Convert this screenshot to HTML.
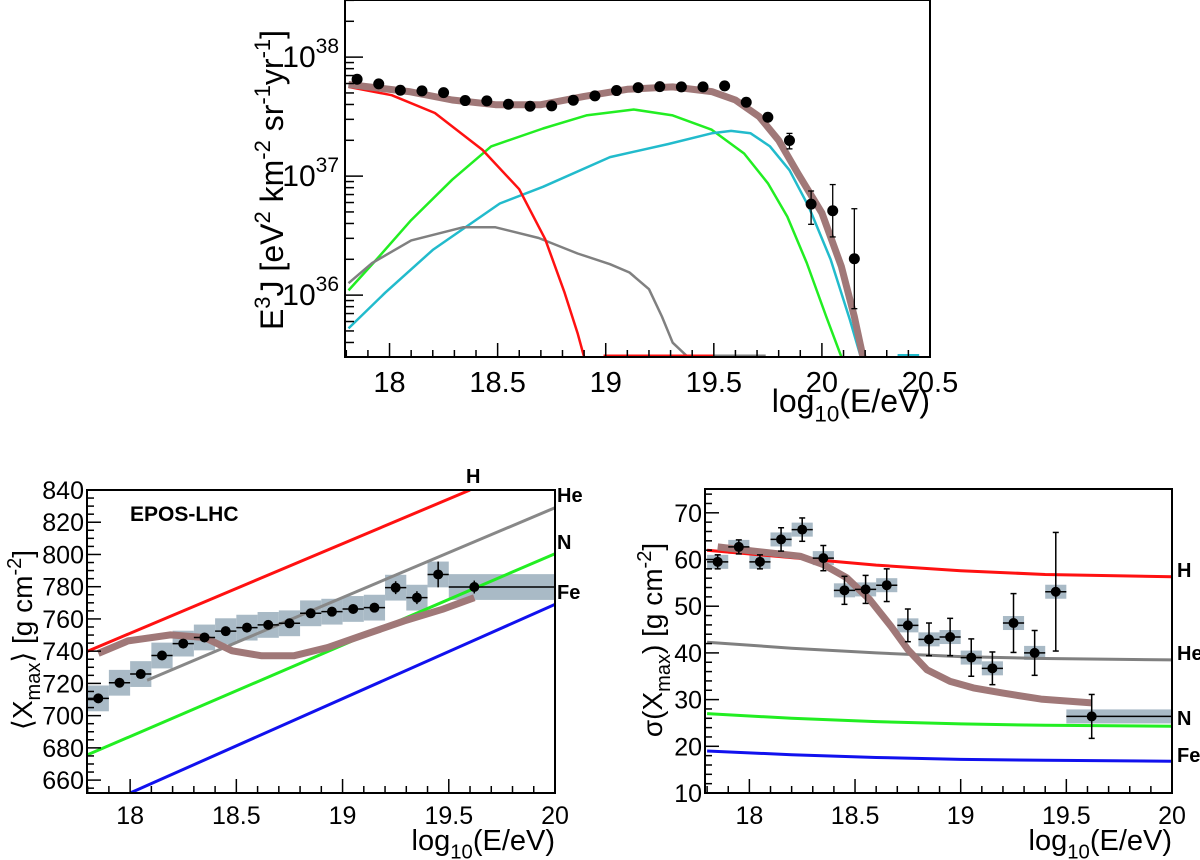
<!DOCTYPE html>
<html><head><meta charset="utf-8"><style>
html,body{margin:0;padding:0;background:#fff;}
svg{display:block;font-family:"Liberation Sans",Arial,sans-serif;}
</style></head><body>
<svg id="fig" width="1200" height="860" viewBox="0 0 1200 860" xmlns="http://www.w3.org/2000/svg"></svg>
<script>
// ===== Top panel data (log10 E, log10 E^3 J) =====
const specE = [17.85,17.95,18.05,18.15,18.25,18.35,18.45,18.55,18.65,18.75,18.85,18.95,19.05,19.15,19.25,19.35,19.45,19.55,19.65,19.75,19.85,19.95,20.05,20.15];
const specJ = [37.814,37.775,37.722,37.716,37.702,37.635,37.632,37.604,37.587,37.590,37.638,37.674,37.719,37.744,37.752,37.750,37.750,37.758,37.621,37.495,37.299,36.765,36.709,36.306];
const specErrUp = [0,0,0,0,0,0,0,0,0,0,0,0,0,0,0,0,0,0,0,0,0.06,0.11,0.22,0.42];
const specErrDn = [0,0,0,0,0,0,0,0,0,0,0,0,0,0,0,0,0,0,0,0,0.07,0.17,0.22,0.42];
const totX = [17.81,18.09,18.29,18.49,18.70,18.90,19.10,19.31,19.49,19.60,19.71,19.80,19.89,20.00,20.09,20.15,20.19];
const totY = [37.77,37.71,37.64,37.60,37.60,37.67,37.73,37.75,37.71,37.64,37.50,37.30,37.02,36.69,36.24,35.82,35.48];
const redX = [17.81,18.01,18.21,18.43,18.60,18.72,18.81,18.87,18.90];
const redY = [37.75,37.68,37.53,37.22,36.89,36.47,36.02,35.68,35.48];
const redFlatX = [18.99,19.50];
const greenX = [17.81,17.94,18.10,18.29,18.47,18.71,18.91,19.13,19.31,19.49,19.64,19.75,19.84,19.93,20.02,20.09];
const greenY = [36.04,36.30,36.63,36.97,37.25,37.40,37.51,37.56,37.51,37.39,37.19,36.94,36.66,36.27,35.82,35.48];
const cyanX = [17.81,17.98,18.20,18.51,18.71,19.02,19.29,19.49,19.58,19.67,19.76,19.85,19.94,20.04,20.13,20.18];
const cyanY = [35.72,36.02,36.38,36.77,36.91,37.16,37.27,37.36,37.38,37.36,37.25,37.05,36.74,36.30,35.79,35.48];
const grayX = [17.81,17.92,18.10,18.34,18.49,18.69,18.87,19.02,19.11,19.20,19.26,19.31,19.38];
const grayY = [36.10,36.27,36.46,36.57,36.57,36.48,36.35,36.26,36.19,36.05,35.82,35.60,35.48];
// ===== <Xmax> panel data =====
const xmE = [17.85,17.95,18.05,18.15,18.25,18.35,18.45,18.55,18.65,18.75,18.85,18.95,19.05,19.15,19.25,19.35,19.45,19.62];
const xmV = [710.7,720.4,725.8,737.3,744.7,748.5,752.4,754.6,756.3,757.3,763.5,764.5,766.2,767.0,779.4,773.2,787.6,779.8];
const xmStat = [2,2,2,2,2,2,2,2,2,2,2.5,2.5,2.5,2.5,4,4,8,4];
const xmSys = [8,8,8,8,8,8,8,8,8,8,8,8,8,8,8,8,8,8];
const xmModelX = [17.85,17.99,18.19,18.35,18.48,18.62,18.77,18.93,19.11,19.29,19.47,19.62];
const xmModelY = [738.6,746.4,750.1,748.5,740.2,737.1,737.1,742.3,750.5,758.8,766.0,773.2];
const hLine = [[17.8,740],[19.6,840]];
const heLine = [[18.08,722],[20,829]];
const nLine = [[17.8,675.7],[20,800.5]];
const feLine = [[18.0,652],[20,769]];
// ===== sigma(Xmax) panel data =====
const sgE = [17.85,17.95,18.05,18.15,18.25,18.35,18.45,18.55,18.65,18.75,18.85,18.95,19.05,19.15,19.25,19.35,19.45,19.62];
const sgV = [59.5,62.7,59.5,64.3,66.4,60.3,53.4,53.6,54.5,45.9,42.9,43.4,39.0,36.7,46.4,40.0,53.1,26.4];
const sgStat = [1.5,1.5,1.5,2.5,2.5,2.7,3,3,3.5,3.5,3.5,4,4,3.5,6.3,4.8,12.7,4.7];
const sgSys = [1.5,1.5,1.5,1.5,1.5,1.5,1.5,1.5,1.5,1.5,1.5,1.5,1.5,1.5,1.5,1.5,1.5,1.5];
const sgModelX = [17.85,18.02,18.24,18.35,18.46,18.57,18.67,18.75,18.84,18.95,19.06,19.2,19.38,19.62];
const sgModelY = [62.7,61.8,60.7,58.9,56.1,51.4,45.7,40.7,36.4,33.9,32.5,31.4,30.1,29.3];
const sgLX = [17.8,18.2,18.6,19.0,19.4,20.0];
const sgH = [62.0,60.4,58.8,57.6,56.8,56.3];
const sgHe = [42.3,41.0,40.0,39.2,38.8,38.5];
const sgN = [27.0,26.0,25.3,24.8,24.5,24.3];
const sgFe = [19.0,18.2,17.6,17.2,17.0,16.8];

const NS = "http://www.w3.org/2000/svg";
const svg = document.getElementById('fig');
function mk(tag, attrs, parent){ const e=document.createElementNS(NS,tag); for(const k in attrs) e.setAttribute(k,attrs[k]); (parent||svg).appendChild(e); return e; }

function panel(L,R,T,B,x0,x1,y0,y1){
  return { X:v=>L+(v-x0)/(x1-x0)*(R-L), Y:v=>B-(v-y0)/(y1-y0)*(B-T), L,R,T,B };
}
function poly(p, xs, ys, color, w, name, g){
  const d = xs.map((x,i)=>(i?'L':'M')+p.X(x).toFixed(1)+','+p.Y(ys[i]).toFixed(1)).join('');
  const e = mk('path',{d:d,fill:'none',stroke:color,'stroke-width':w,'stroke-linejoin':'round'},g);
  
  
  return e;
}
function frame(p, name){
  const e = mk('rect',{x:p.L,y:p.T,width:p.R-p.L,height:p.B-p.T,fill:'none',stroke:'#000','stroke-width':2});
  
  
}
function clip(p,id){
  const cp = mk('clipPath',{id:id});
  mk('rect',{x:p.L,y:p.T,width:p.R-p.L,height:p.B-p.T},cp);
  const g = mk('g',{'clip-path':'url(#'+id+')'});
  return g;
}
function xTicks(p, x0, x1, majors, fs, name){
  const g = mk('g',{});
  
  
  for(let v=Math.ceil(x0*10)/10; v<=x1+1e-6; v+=0.1){
    const vv=Math.round(v*10)/10, maj=Math.abs(vv*2-Math.round(vv*2))<1e-6;
    mk('line',{x1:p.X(vv),x2:p.X(vv),y1:p.B,y2:p.B-(maj?14:7),stroke:'#000','stroke-width':1.5},g);
  }
  majors.forEach(v=>{
    const t = mk('text',{x:p.X(v),y:p.B+fs+6,'font-size':fs,'text-anchor':'middle'},g);
    t.textContent = String(v);
    
    
  });
}
function xTitle(p, y, fs){
  const t = mk('text',{x:p.R,y:y,'font-size':fs,'text-anchor':'end'});
  
  
  t.innerHTML = 'log<tspan font-size="'+(fs*0.7)+'" dy="'+(fs*0.3)+'">10</tspan><tspan dy="'+(-fs*0.3)+'">(E/eV)</tspan>';
}

// ================= TOP PANEL =================
const pt = panel(345,930,0,357,17.794,20.5,35.48,38.48);
(function(){
  const g = clip(pt,'cTop');
  
  poly(pt,greenX,greenY,'#22ee22',2.5,'nitrogen-spectrum-curve',g);
  poly(pt,cyanX,cyanY,'#22bbcc',2.5,'iron-spectrum-curve',g);
  poly(pt,grayX,grayY,'#808080',2.5,'helium-spectrum-curve',g);
  poly(pt,redX,redY,'#ff1111',2.5,'hydrogen-spectrum-curve',g);
  const rf = mk('line',{x1:pt.X(redFlatX[0]),x2:pt.X(redFlatX[1]),y1:pt.B-1,y2:pt.B-1,stroke:'#ff1111','stroke-width':3},g);
  
  
  const gf = mk('line',{x1:pt.X(19.5),x2:pt.X(19.74),y1:pt.B-1,y2:pt.B-1,stroke:'#808080','stroke-width':3},g);
  
  
  const cf = mk('line',{x1:pt.X(20.35),x2:pt.X(20.45),y1:pt.B-1,y2:pt.B-1,stroke:'#22bbcc','stroke-width':4},g);
  
  
  poly(pt,totX,totY,'#a07878',7,'total-model-curve',g);
  specE.forEach((e,i)=>{
    const cx=pt.X(e), cy=pt.Y(specJ[i]);
    if(specErrUp[i]>0){
      const yu=pt.Y(specJ[i]+specErrUp[i]), yd=pt.Y(specJ[i]-specErrDn[i]);
      mk('line',{x1:cx,x2:cx,y1:yu,y2:yd,stroke:'#000','stroke-width':1.3},g);
      mk('line',{x1:cx-3,x2:cx+3,y1:yu,y2:yu,stroke:'#000','stroke-width':1.3},g);
      mk('line',{x1:cx-3,x2:cx+3,y1:yd,y2:yd,stroke:'#000','stroke-width':1.3},g);
    }
    const c = mk('circle',{cx:cx,cy:cy,r:5.5,fill:'#000'},g);
    
    
  });
  frame(pt,'spectrum-frame');
  const yg = mk('g',{});
  
  
  for(let d=35; d<=38; d++){
    for(let m=1; m<=9; m++){
      const lv = d+Math.log10(m);
      if(lv<35.48||lv>38.48) continue;
      mk('line',{x1:pt.L,x2:pt.L+(m===1?18:9),y1:pt.Y(lv),y2:pt.Y(lv),stroke:'#000','stroke-width':1.5},yg);
    }
  }
  [36,37,38].forEach(d=>{
    const t = mk('text',{x:pt.L-6,y:pt.Y(d)+10,'font-size':30,'text-anchor':'end'},yg);
    t.innerHTML = '10<tspan font-size="21" dy="-14">'+d+'</tspan>';
    
    
  });
  xTicks(pt,17.794,20.5,[18,18.5,19,19.5,20,20.5],29,'spectrum-x-ticks');
  xTitle(pt,412,32);
  const yt = mk('text',{x:0,y:0,'font-size':32,'text-anchor':'middle',transform:'translate(283,180) rotate(-90)'});
  
  
  yt.innerHTML = 'E<tspan font-size="22" dy="-13">3</tspan><tspan dy="13">J [eV</tspan><tspan font-size="22" dy="-13">2</tspan><tspan dy="13"> km</tspan><tspan font-size="22" dy="-13">-2</tspan><tspan dy="13"> sr</tspan><tspan font-size="22" dy="-13">-1</tspan><tspan dy="13">yr</tspan><tspan font-size="22" dy="-13">-1</tspan><tspan dy="13">]</tspan>';
})();

// ================= BOTTOM LEFT: <Xmax> =================
const pl = panel(87,555,490,793,17.797,20,652,840);
(function(){
  const g = clip(pl,'cBL');
  
  xmE.forEach((e,i)=>{
    const last = i===xmE.length-1;
    const x0 = last?19.5:e-0.05, x1 = last?20:e+0.05;
    const r = mk('rect',{x:pl.X(x0),y:pl.Y(xmV[i]+xmSys[i]),width:pl.X(x1)-pl.X(x0),height:pl.Y(xmV[i]-xmSys[i])-pl.Y(xmV[i]+xmSys[i]),fill:'#a9bac6'},g);
    
    
  });
  const lines=[[hLine,'#ff1111','hydrogen-xmax-line'],[heLine,'#888888','helium-xmax-line'],[nLine,'#22ee22','nitrogen-xmax-line'],[feLine,'#1111ee','iron-xmax-line']];
  lines.forEach(l=>poly(pl,l[0].map(p=>p[0]),l[0].map(p=>p[1]),l[1],3,l[2],g));
  poly(pl,xmModelX,xmModelY,'#a07878',7,'xmax-model-curve',g);
  xmE.forEach((e,i)=>{
    const last = i===xmE.length-1;
    const cx=pl.X(e), cy=pl.Y(xmV[i]);
    mk('line',{x1:last?pl.X(19.5):pl.X(e-0.05),x2:last?pl.X(20):pl.X(e+0.05),y1:cy,y2:cy,stroke:'#000','stroke-width':1.5},g);
    const yu=pl.Y(xmV[i]+xmStat[i]), yd=pl.Y(xmV[i]-xmStat[i]);
    mk('line',{x1:cx,x2:cx,y1:yu,y2:yd,stroke:'#000','stroke-width':1.5},g);
    const c = mk('circle',{cx:cx,cy:cy,r:5,fill:'#000'},g);
    
    
  });
  frame(pl,'xmax-frame');
  const yg = mk('g',{});
  
  
  for(let v=655; v<=840; v+=5){
    const maj = v%20===0;
    mk('line',{x1:pl.L,x2:pl.L+(maj?14:7),y1:pl.Y(v),y2:pl.Y(v),stroke:'#000','stroke-width':1.5},yg);
    if(maj){
      const t = mk('text',{x:pl.L-3,y:pl.Y(v)+9,'font-size':25,'text-anchor':'end'},yg);
      t.textContent = String(v);
      
      
    }
  }
  xTicks(pl,17.797,20,[18,18.5,19,19.5,20],25,'xmax-x-ticks');
  xTitle(pl,850,29);
  const yt = mk('text',{x:0,y:0,'font-size':28,'text-anchor':'middle',transform:'translate(32,640) rotate(-90)'});
  
  
  yt.innerHTML = '⟨X<tspan font-size="20" dy="8">max</tspan><tspan dy="-8">⟩ [g cm</tspan><tspan font-size="20" dy="-11">-2</tspan><tspan dy="11">]</tspan>';
  const lab = mk('text',{x:130,y:521,'font-size':21,'font-weight':'bold'});
  lab.textContent='EPOS-LHC';
  
  
  [['H',466,483,'hydrogen-label'],['He',557,502,'helium-label'],['N',557,549,'nitrogen-label'],['Fe',557,599,'iron-label']].forEach(a=>{
    const t = mk('text',{x:a[1],y:a[2],'font-size':20,'font-weight':'bold'});
    t.textContent=a[0];
    
    
  });
})();

// ================= BOTTOM RIGHT: sigma(Xmax) =================
const pr = panel(705,1172,489,793,17.79,20,10,75.1);
(function(){
  const g = clip(pr,'cBR');
  
  sgE.forEach((e,i)=>{
    const last = i===sgE.length-1;
    const x0 = last?19.5:e-0.05, x1 = last?20:e+0.05;
    const r = mk('rect',{x:pr.X(x0),y:pr.Y(sgV[i]+sgSys[i]),width:pr.X(x1)-pr.X(x0),height:pr.Y(sgV[i]-sgSys[i])-pr.Y(sgV[i]+sgSys[i]),fill:'#a9bac6'},g);
    
    
  });
  poly(pr,sgLX,sgH,'#ff1111',3,'hydrogen-sigma-line',g);
  poly(pr,sgLX,sgHe,'#808080',3,'helium-sigma-line',g);
  poly(pr,sgLX,sgN,'#22ee22',3,'nitrogen-sigma-line',g);
  poly(pr,sgLX,sgFe,'#1111ee',3,'iron-sigma-line',g);
  poly(pr,sgModelX,sgModelY,'#a07878',7,'sigma-model-curve',g);
  sgE.forEach((e,i)=>{
    const last = i===sgE.length-1;
    const cx=pr.X(e), cy=pr.Y(sgV[i]);
    mk('line',{x1:last?pr.X(19.5):pr.X(e-0.05),x2:last?pr.X(20):pr.X(e+0.05),y1:cy,y2:cy,stroke:'#000','stroke-width':1.5},g);
    const yu=pr.Y(sgV[i]+sgStat[i]), yd=pr.Y(sgV[i]-sgStat[i]);
    mk('line',{x1:cx,x2:cx,y1:yu,y2:yd,stroke:'#000','stroke-width':1.5},g);
    mk('line',{x1:cx-3,x2:cx+3,y1:yu,y2:yu,stroke:'#000','stroke-width':1.5},g);
    mk('line',{x1:cx-3,x2:cx+3,y1:yd,y2:yd,stroke:'#000','stroke-width':1.5},g);
    const c = mk('circle',{cx:cx,cy:cy,r:5,fill:'#000'},g);
    
    
  });
  frame(pr,'sigma-frame');
  const yg = mk('g',{});
  
  
  for(let v=10; v<=75; v+=2){
    const maj = v%10===0;
    mk('line',{x1:pr.L,x2:pr.L+(maj?14:7),y1:pr.Y(v),y2:pr.Y(v),stroke:'#000','stroke-width':1.5},yg);
    if(maj){
      const t = mk('text',{x:pr.L-3,y:pr.Y(v)+9,'font-size':25,'text-anchor':'end'},yg);
      t.textContent = String(v);
      
      
    }
  }
  xTicks(pr,17.79,20,[18,18.5,19,19.5,20],25,'sigma-x-ticks');
  xTitle(pr,850,29);
  const yt = mk('text',{x:0,y:0,'font-size':28,'text-anchor':'middle',transform:'translate(662,640) rotate(-90)'});
  
  
  yt.innerHTML = 'σ(X<tspan font-size="20" dy="8">max</tspan><tspan dy="-8">) [g cm</tspan><tspan font-size="20" dy="-11">-2</tspan><tspan dy="11">]</tspan>';
  [['H',577,'hydrogen-label'],['He',660,'helium-label'],['N',725,'nitrogen-label'],['Fe',762,'iron-label']].forEach(a=>{
    const t = mk('text',{x:1177,y:a[1],'font-size':20,'font-weight':'bold'});
    t.textContent=a[0];
    
    
  });
})();
</script>
</body></html>
